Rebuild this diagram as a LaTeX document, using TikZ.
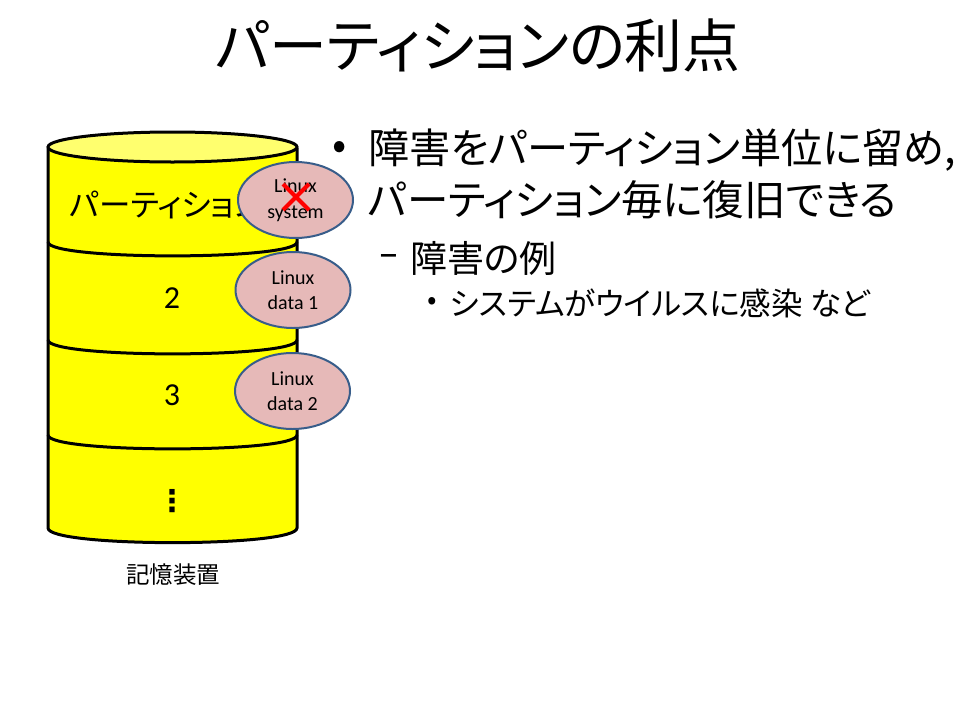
\documentclass[tikz,border=0pt]{standalone}
\usepackage{fontspec}
\setmainfont{Noto Sans CJK JP}[RawFeature={+palt}]
\newfontfamily\latinfont{Carlito}
\newfontfamily\symfont{DejaVu Sans}
\usetikzlibrary{shapes.geometric}
\definecolor{cylfill}{RGB}{255,255,0}
\definecolor{cyltop}{RGB}{255,255,110}
\definecolor{pinkfill}{RGB}{230,185,184}
\definecolor{blueline}{RGB}{56,93,138}
\tikzset{
  part/.style={ellipse, draw=blueline, fill=pinkfill, line width=2pt,
    minimum width=115pt, minimum height=76pt, inner sep=0pt, align=center,
    font=\latinfont\fontsize{20}{25.5}\selectfont},
  txt/.style={anchor=west, inner sep=0pt},
  cylline/.style={line width=3pt, black}
}
\begin{document}
\begin{tikzpicture}[x=1pt,y=-1pt]
\useasboundingbox[fill=white] (0,0) rectangle (960,720);
% title
\node[inner sep=0pt] (title) at (478,45) {\fontsize{58}{62}\selectfont パーティションの利点};
% cylinder body
\fill[cylfill] (48,148) -- (48,528) .. controls (48,547.5) and (297,547.5) .. (297,528) -- (297,148) -- cycle;
\draw[cylline] (48,148) -- (48,528) .. controls (48,547.5) and (297,547.5) .. (297,528) -- (297,148);
\draw[cylline, fill=cyltop] (172.5,147) ellipse[x radius=124.5, y radius=15];
\foreach \yy in {242,340,435}{
  \draw[cylline] (48,\yy) .. controls (48,\yy+18.5) and (297,\yy+18.5) .. (297,\yy);
}
% cylinder labels
\node[inner sep=0pt] (p1) at (166,205) {\fontsize{31.5}{34}\selectfont パーティション};
\node[inner sep=0pt] (p2) at (172,298) {\latinfont\fontsize{32}{34}\selectfont 2};
\node[inner sep=0pt] (p3) at (172,395) {\latinfont\fontsize{32}{34}\selectfont 3};
\node[inner sep=0pt] (p4) at (172,501) {\symfont\bfseries\fontsize{30}{32}\selectfont ⋮};
\node[inner sep=0pt] (dev) at (173,575) {\fontsize{23.5}{26}\selectfont 記憶装置};
% partitions
\node[part] (sys) at (295.5,200) {Linux\\system};
\node[part] (d1) at (293,290) {Linux\\data 1};
\node[part] (d2) at (292.5,391) {Linux\\data 2};
% red cross
\coordinate (xc) at (296,197);
\draw[red, line width=4pt] ([shift={(-13,-13)}]xc) -- ([shift={(13,13)}]xc);
\draw[red, line width=4pt] ([shift={(-13,13)}]xc) -- ([shift={(13,-13)}]xc);
% bullets
\node[inner sep=0pt] (b1) at (340,150) {\fontsize{42}{44}\selectfont •};
\node[txt] (l1) at (368,150) {\fontsize{41.2}{44}\selectfont 障害をパーティション単位に留め,};
\node[txt] (l2) at (368,200) {\fontsize{41.5}{44}\selectfont パーティション毎に復旧できる};
\node[txt] (d) at (378,261) {\latinfont\fontsize{42}{44}\selectfont –};
\node[txt] (l3) at (410,258) {\fontsize{37}{40}\selectfont 障害の例};
\node[inner sep=0pt] (b3) at (432,303) {\fontsize{28}{30}\selectfont •};
\node[txt] (l4) at (450,303) {\fontsize{31.5}{34}\selectfont システムがウイルスに感染 など};
\end{tikzpicture}
\end{document}
